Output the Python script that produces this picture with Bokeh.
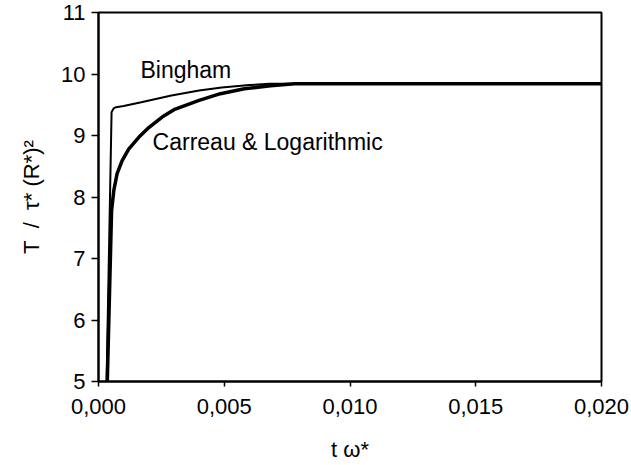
from bokeh.plotting import figure
from bokeh.models import FixedTicker, CustomJSTickFormatter, Label, Range1d
from bokeh.embed import file_html
from bokeh.resources import INLINE

# ---- data ----
bingham_t = [0.00032, 0.00052, 0.00060, 0.00070, 0.0010, 0.0017, 0.0029, 0.0040, 0.0049, 0.0060, 0.0068, 0.0078, 0.020]
bingham_y = [5.0, 9.38, 9.44, 9.46, 9.48, 9.54, 9.65, 9.73, 9.78, 9.82, 9.84, 9.84, 9.84]

carreau_log_t = [0.00035, 0.00052, 0.00061, 0.00074, 0.00094, 0.0012, 0.0016, 0.0020, 0.00253,
                 0.0030, 0.0040, 0.00485, 0.0058, 0.00684, 0.0078, 0.020]
carreau_log_y = [5.0, 7.78, 8.11, 8.38, 8.59, 8.78, 8.97, 9.13, 9.30,
                 9.42, 9.57, 9.68, 9.76, 9.81, 9.84, 9.84]

x_ticks = [0.0, 0.005, 0.010, 0.015, 0.020]
y_ticks = [5, 6, 7, 8, 9, 10, 11]

NB = "\u00a0"
x_title = "t" + NB + "\u03c9*"
y_title = "T" + NB + NB + "/" + NB + NB + "\u03c4*" + NB + "(R*)\u00b2"

FONT = "Liberation Sans"

p = figure(width=631, height=465, output_backend="svg", toolbar_location=None,
           x_range=Range1d(0, 0.02), y_range=Range1d(5, 11),
           min_border_left=98, min_border_right=30, min_border_top=12, min_border_bottom=84)
p.background_fill_color = "white"
p.border_fill_color = "white"
p.outline_line_color = "black"
p.outline_line_width = 2
p.xgrid.visible = False
p.ygrid.visible = False

for ax in (p.xaxis[0], p.yaxis[0]):
    ax.axis_line_color = "black"
    ax.axis_line_width = 2
    ax.major_tick_line_color = "black"
    ax.major_tick_line_width = 1.5
    ax.major_tick_in = 0
    ax.minor_tick_line_color = None
    ax.major_label_text_font = FONT
    ax.major_label_text_font_size = "22px"
    ax.major_label_text_color = "black"
    ax.axis_label_text_font = FONT
    ax.axis_label_text_font_size = "22px"
    ax.axis_label_text_font_style = "normal"
    ax.axis_label_text_color = "black"

p.xaxis.ticker = FixedTicker(ticks=x_ticks)
p.yaxis.ticker = FixedTicker(ticks=y_ticks)
p.xaxis.major_tick_out = 5
p.yaxis.major_tick_out = 7
p.xaxis.major_label_standoff = 12
p.yaxis.major_label_standoff = 6
p.xaxis.formatter = CustomJSTickFormatter(code="return tick.toFixed(3).replace('.', ',');")
p.xaxis.axis_label = x_title
p.yaxis.axis_label = y_title
p.xaxis.axis_label_standoff = 20
p.yaxis.axis_label_standoff = 14

p.line(bingham_t, bingham_y, line_color="black", line_width=2)
p.line(carreau_log_t, carreau_log_y, line_color="black", line_width=3.5, line_join="round")

p.add_layout(Label(x=0.00167, y=10.06, text="Bingham", text_font=FONT, text_font_size="23px",
                   text_baseline="middle", text_align="left", text_color="black"))
p.add_layout(Label(x=0.00215, y=8.90, text="Carreau & Logarithmic", text_font=FONT,
                   text_font_size="23px", text_baseline="middle", text_align="left", text_color="black"))

open("out.html", "w").write(file_html(p, INLINE))
